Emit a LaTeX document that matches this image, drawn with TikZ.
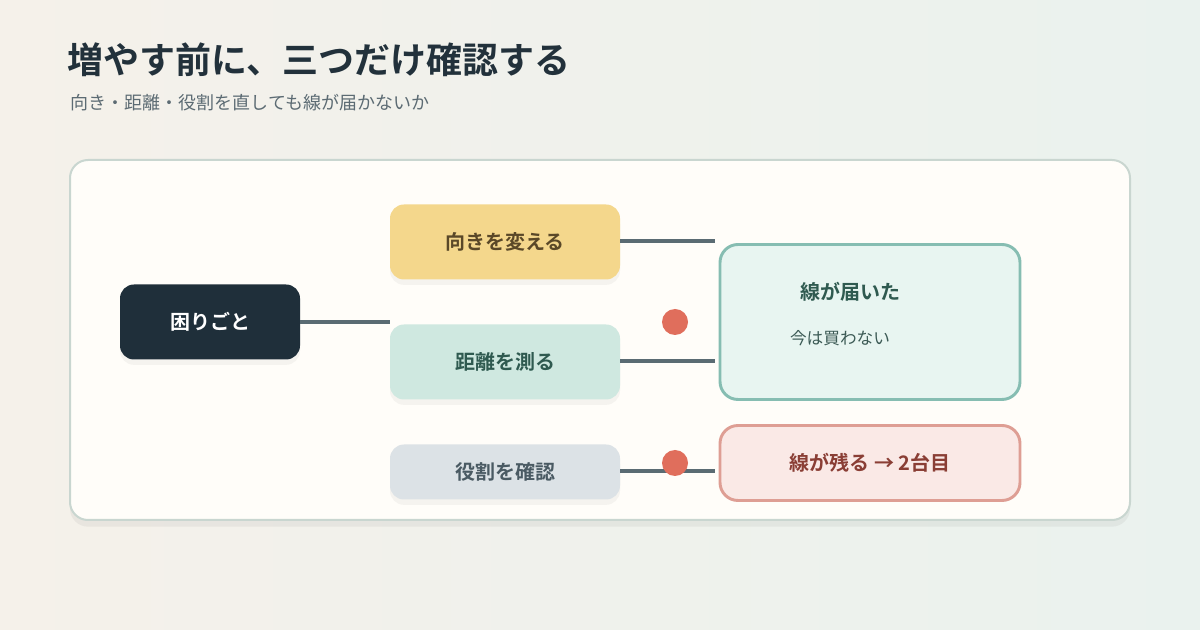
\documentclass[tikz,border=0pt]{standalone}
\usepackage{fontspec}
\setmainfont{Noto Sans CJK JP}[BoldFont={* Bold}]
\usetikzlibrary{positioning}
\usetikzlibrary{shadows}
\definecolor{ink}{HTML}{22313B}
\definecolor{sub}{HTML}{5C6B73}
\definecolor{wire}{HTML}{5A6B73}
\definecolor{dot}{HTML}{E06E5C}
\tikzset{
  box/.style={rounded corners=14*0.75pt, minimum height=75*0.75pt, minimum width=230*0.75pt,
    font=\fontsize{15pt}{18pt}\selectfont\bfseries, inner sep=0pt},
  wire/.style={draw=wire, line width=3.6pt},
  soft/.style={drop shadow={opacity=0.08, shadow xshift=0pt, shadow yshift=-4pt}},
}
\begin{document}
\begin{tikzpicture}[x=0.75pt,y=-0.75pt]
    \shade[top color=white!100!black, left color={rgb,255:red,245;green,241;blue,234}, right color={rgb,255:red,234;green,242;blue,238}] (0,0) rectangle (1200,630);
    \useasboundingbox (0,0) rectangle (1200,630);
    % title
    \node[anchor=west, text=ink, font=\fontsize{27pt}{32pt}\selectfont\bfseries] (title) at (63,60) {増やす前に、三つだけ確認する};
    \node[anchor=west, text=sub, font=\fontsize{13.5pt}{16pt}\selectfont] (subtitle) at (66,103) {向き・距離・役割を直しても線が届かないか};
    % card
    \draw[fill={rgb,255:red,255;green,253;blue,249}, draw={rgb,255:red,201;green,214;blue,208}, line width=1.5pt, rounded corners=18*0.75pt, drop shadow={opacity=0.1, shadow xshift=0pt, shadow yshift=-5pt}] (70,160) rectangle (1130,520);
    % nodes
    \node[box, soft, fill={rgb,255:red,31;green,47;blue,58}, text=white, minimum width=180*0.75pt] (trouble) at (210,322) {困りごと};
    \node[box, soft, fill={rgb,255:red,244;green,215;blue,140}, text={rgb,255:red,90;green,72;blue,40}] (turn) at (505,242) {向きを変える};
    \node[box, soft, fill={rgb,255:red,207;green,232;blue,224}, text={rgb,255:red,47;green,90;blue,80}] (measure) at (505,362) {距離を測る};
    \node[box, soft, fill={rgb,255:red,220;green,226;blue,230}, text={rgb,255:red,74;green,90;blue,99}, minimum height=55*0.75pt] (role) at (505,472) {役割を確認};
    \node[rounded corners=18*0.75pt, draw={rgb,255:red,134;green,189;blue,178}, line width=2.2pt, fill={rgb,255:red,232;green,245;blue,241}, minimum width=300*0.75pt, minimum height=155*0.75pt] (reached) at (870,322) {};
    \node[text={rgb,255:red,47;green,90;blue,80}, font=\fontsize{15pt}{18pt}\selectfont\bfseries] (reachedT) at (850,292) {線が届いた};
    \node[text={rgb,255:red,60;green,90;blue,85}, font=\fontsize{12.5pt}{15pt}\selectfont] (reachedS) at (840,338) {今は買わない};
    \node[box, draw={rgb,255:red,222;green,158;blue,148}, line width=2.2pt, fill={rgb,255:red,250;green,233;blue,230}, text={rgb,255:red,138;green,62;blue,53}, rounded corners=18*0.75pt, minimum width=300*0.75pt] (second) at (870,463) {線が残る → 2台目};
    % wires
    \coordinate (turnEnd) at (715,241);
    \coordinate (measureEnd) at (715,361);
    \coordinate (roleEnd) at (715,471);
    \draw[wire] (trouble.east) -- (trouble.east -| turn.west);
    \draw[wire] (turn.east |- turnEnd) -- (turnEnd);
    \draw[wire] (measure.east |- measureEnd) -- (measureEnd);
    \draw[wire] (role.east |- roleEnd) -- (roleEnd);
    % dots
    \fill[dot] (675,322) circle (13);
    \fill[dot] (675,463) circle (13);
\end{tikzpicture}
\end{document}
